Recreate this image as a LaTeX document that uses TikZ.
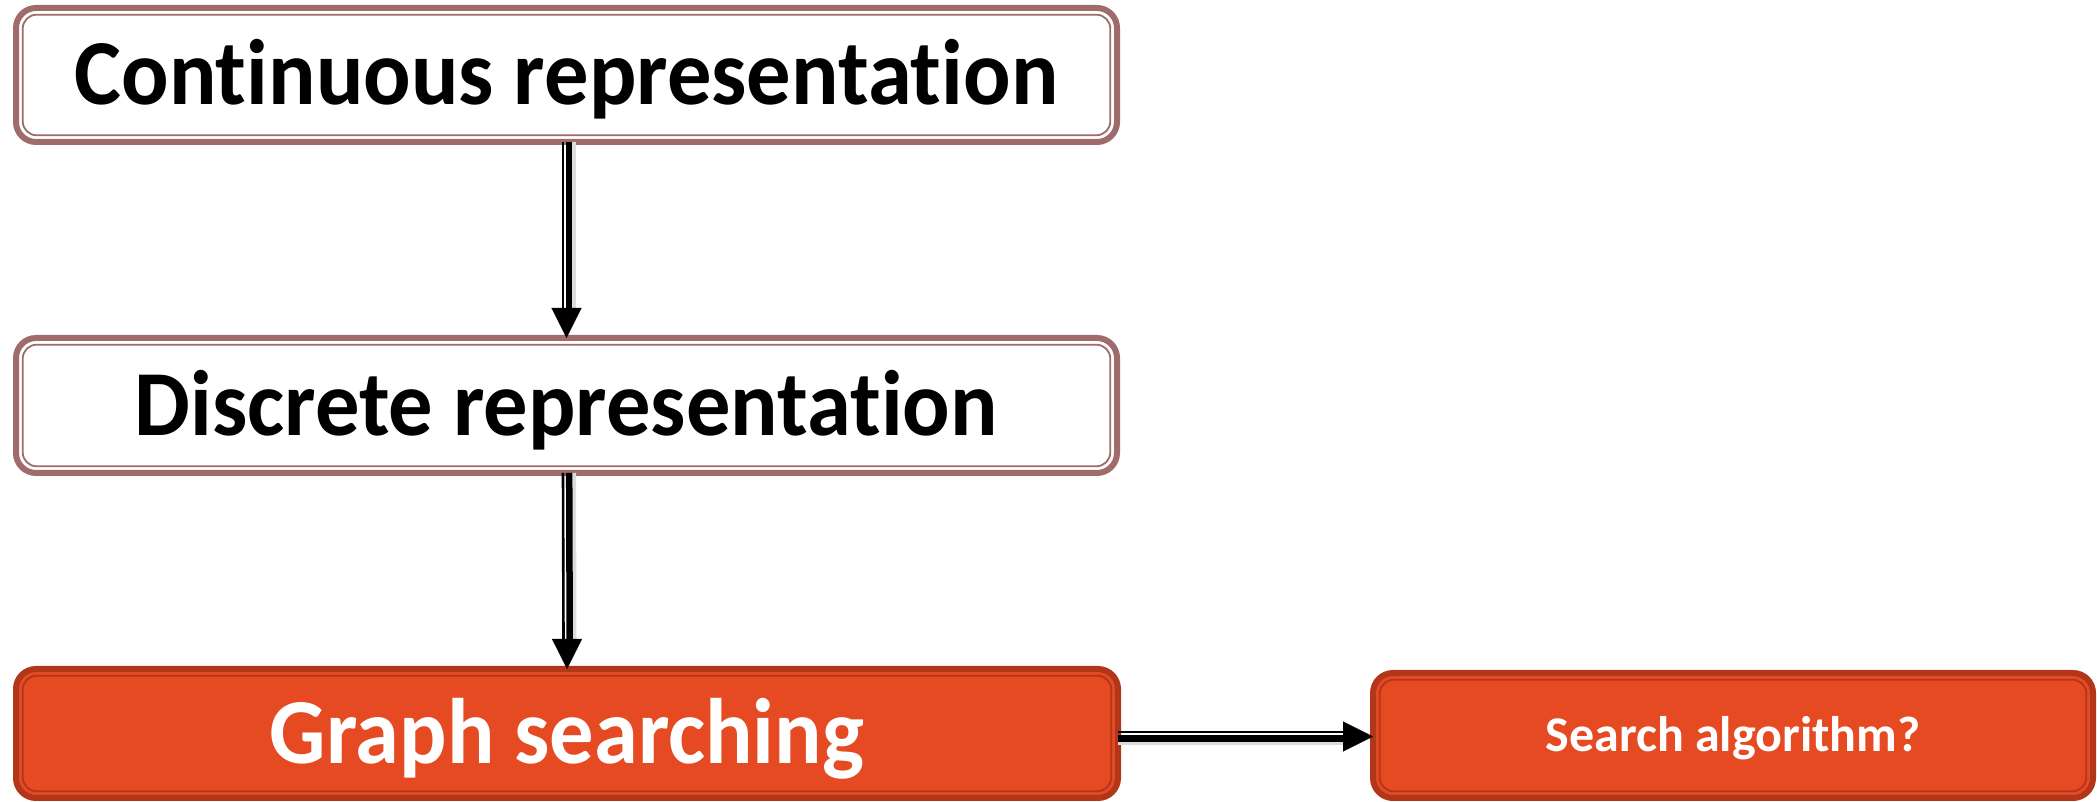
\documentclass[tikz,border=0pt]{standalone}
\usepackage{fontspec}
\setmainfont{Carlito}[Ligatures={NoCommon,NoRequired,NoContextual}]
\newfontfamily\headface{Carlito}[Ligatures={NoCommon,NoRequired,NoContextual}, FakeStretch=0.952]
\usetikzlibrary{arrows.meta}

\definecolor{rimbrown}{HTML}{A06B6B}
\definecolor{flame}{HTML}{E54A22}
\definecolor{flamerim}{HTML}{B2361A}
\definecolor{shadowgray}{HTML}{DCDCDC}

\tikzset{
  x=1pt, y=1pt,
  stagebox/.style={draw=rimbrown, fill=white, line width=6pt, rounded corners=20pt,
    inner sep=0pt, outer sep=0pt, text=black, text height=60pt, text depth=0pt,
    font=\headface\fontsize{93}{100}\selectfont\bfseries},
  hotbox/.style={stagebox, draw=flamerim, fill=flame, text=white},
  innerrim/.style={draw=rimbrown, line width=1.8pt, rounded corners=14pt},
  hotrim/.style={innerrim, draw=flamerim},
  thinstroke/.style={draw=black, line width=2.6pt},
  thickstroke/.style={draw=black, line width=6.5pt},
  shadowstroke/.style={draw=shadowgray, line width=4pt},
  headtip/.style={draw=black, line width=0.1pt, -{Triangle[width=30pt,length=30pt]}},
}

\begin{document}
\begin{tikzpicture}
\useasboundingbox (0,0) rectangle (2097,802);

% the four stage boxes
\node[stagebox, minimum width=1101pt, minimum height=134pt] (b1) at (566.5,727) {Continuous representation};
\node[stagebox, minimum width=1101pt, minimum height=135pt] (b2) at (566.5,396.5) {Discrete representation};
\node[hotbox, minimum width=1102pt, minimum height=129pt] (b3) at (567,68.5) {Graph searching};
\node[hotbox, minimum width=720pt, minimum height=125pt, text height=32pt,
      font=\fontsize{50}{56}\selectfont\bfseries] (b4) at (1733,66.5) {Search algorithm?};

% inner rims
\draw[innerrim] ([shift={(6.7,6.7)}]b1.south west) rectangle ([shift={(-6.7,-6.7)}]b1.north east);
\draw[innerrim] ([shift={(6.7,6.7)}]b2.south west) rectangle ([shift={(-6.7,-6.7)}]b2.north east);
\draw[hotrim] ([shift={(6.7,6.7)}]b3.south west) rectangle ([shift={(-6.7,-6.7)}]b3.north east);
\draw[hotrim] ([shift={(6.7,6.7)}]b4.south west) rectangle ([shift={(-6.7,-6.7)}]b4.north east);

% vertical connectors
\foreach \src/\dst in {b1/b2, b2/b3} {
  \draw[shadowstroke] ([xshift=7.5pt]\src.south) -- ([xshift=7.5pt,yshift=30pt]\dst.north);
  \draw[thinstroke] ([xshift=-3.5pt]\src.south) -- ([xshift=-3.5pt,yshift=28pt]\dst.north);
  \draw[thickstroke] ([xshift=2.7pt]\src.south) -- ([xshift=2.7pt,yshift=28pt]\dst.north);
  \draw[headtip] ([yshift=40pt]\dst.north) -- (\dst.north);
}

% horizontal connector
\draw[shadowstroke] ([yshift=-10pt]b3.east) -- ([xshift=-30pt,yshift=-10pt]b3.east -| b4.west);
\draw[thinstroke] ([yshift=1.5pt]b3.east) -- ([xshift=-28pt,yshift=1.5pt]b3.east -| b4.west);
\draw[thickstroke] ([yshift=-5pt]b3.east) -- ([xshift=-28pt,yshift=-5pt]b3.east -| b4.west);
\draw[headtip] ([xshift=-40pt,yshift=-3pt]b3.east -| b4.west) -- ([yshift=-3pt]b3.east -| b4.west);
\end{tikzpicture}
\end{document}
